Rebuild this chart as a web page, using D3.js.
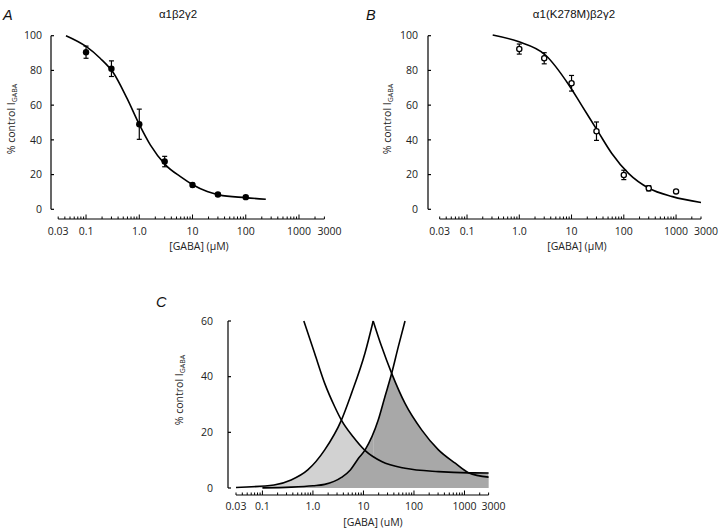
<!DOCTYPE html>
<html><head><meta charset="utf-8">
<script src="https://cdn.jsdelivr.net/npm/d3@7/dist/d3.min.js"></script>
<style>
html,body{margin:0;padding:0;background:#fff;}
svg{display:block;}
.tick-label{font-family:"Open Sans",sans-serif;font-size:10.5px;fill:#222;}
.xtick-label{font-family:"Open Sans",sans-serif;font-size:10.5px;fill:#222;}
.axis-title{font-family:"Open Sans",sans-serif;font-size:10.5px;fill:#222;}
.title{font-family:"Liberation Sans",Arial,sans-serif;font-size:11.5px;fill:#111;}
.panel{font-family:"Liberation Sans",Arial,sans-serif;font-size:14.5px;font-style:italic;fill:#111;}
</style>
</head><body>
<svg id="chart" width="720" height="529"></svg>
<script>
// ---------- DATA ----------
const xTickValues = [0.03, 0.1, 1, 10, 100, 1000, 3000];
const xTickLabels = ["0.03", "0.1", "1.0", "10", "100", "1000", "3000"];
const yTicksAB = [0, 20, 40, 60, 80, 100];
const yTicksC = [0, 20, 40, 60];

// Panel A: α1β2γ2 (filled circles)
const concA = [0.1, 0.3, 1, 3, 10, 30, 100];
const respA = [90.5, 81, 49, 27.5, 14, 8.5, 7];
const errA  = [3.5, 4.5, 8.7, 3, 1, 0.8, 0.8];
const fitA = [[0.042,100],[0.1,93.8],[0.184,87],[0.328,78.5],[0.586,64],[1.01,48.6],[1.61,37.1],[3.1,25.6],[5.94,18.8],[10.3,14],[18.9,10.2],[31.4,8.3],[100,6.7],[238,5.8]];

// Panel B: α1(K278M)β2γ2 (open circles)
const concB = [1, 3, 10, 30, 100, 300, 1000];
const respB = [92.3, 87, 72.6, 45, 19.8, 12.1, 10.3];
const errB  = [2.9, 3.2, 4.5, 5.3, 2.7, 1.5, 0];
const fitB = [[0.31,100.4],[0.955,96.6],[3.16,88.9],[8.9,71.6],[15.3,60.3],[32.2,44.7],[58.5,32.3],[123,20.7],[302,12.1],[851,7.3],[3000,3.9]];

// Panel C curves
const curveC1 = [[0.66,60],[1.08,48.4],[1.71,37.6],[2.7,29.2],[3.66,24.4],[6.24,18.4],[10.7,13.5],[22.9,9.5],[66.5,7.1],[305,5.9],[1200,5.45],[3000,5.4]];
const peakLeft = [[0.03,0.2],[0.17,1.1],[0.37,2.9],[0.79,6.5],[1.71,13.7],[3.66,24.4],[5.8,34],[10.7,48.4],[15.6,60]];
const peakRight = [[15.6,60],[22.9,50.8],[36.2,41.2],[66.5,30.4],[143,20.8],[305,13.7],[656,8.9],[1200,5.5],[3000,3.9]];
const curveC3 = [[0.1,0.05],[0.37,0.3],[1.0,0.8],[1.71,1.3],[3.67,3.8],[5.5,6.5],[7.85,10.5],[10.7,13.6],[19.6,24.4],[26.6,32.8],[36.2,41.2],[49,50.8],[66.5,60]];

// ---------- DRAW ----------
const svg = d3.select("#chart");

function panel(cfg) {
  const g = svg.append("g");
  const x = d3.scaleLog().domain([0.03, 3000]).range(cfg.xr);
  const y = d3.scaleLinear().domain(cfg.yd).range(cfg.yr);
  // y axis
  g.append("line").attr("x1", cfg.yAxisX).attr("x2", cfg.yAxisX)
    .attr("y1", y(cfg.yd[0])).attr("y2", y(cfg.yd[1])).attr("stroke", "#000").attr("stroke-width", 1.2);
  cfg.yTicks.forEach(t => {
    g.append("line").attr("x1", cfg.yAxisX).attr("x2", cfg.yAxisX + 3)
      .attr("y1", y(t)).attr("y2", y(t)).attr("stroke", "#000").attr("stroke-width", 1.2);
    g.append("text").attr("class", "tick-label").attr("x", cfg.yAxisX - cfg.yLabGap).attr("y", y(t))
      .attr("dy", "0.35em").attr("text-anchor", "end").text(t);
  });
  // x axis
  g.append("line").attr("x1", x(0.03)).attr("x2", x(3000)).attr("y1", cfg.xAxisY).attr("y2", cfg.xAxisY)
    .attr("stroke", "#000").attr("stroke-width", 1.2);
  x.ticks().forEach(t => {
    const lg = Math.log10(t);
    const major = Math.abs(lg - Math.round(lg)) < 1e-9;
    g.append("line").attr("x1", x(t)).attr("x2", x(t)).attr("y1", cfg.xAxisY)
      .attr("y2", cfg.xAxisY - (major ? 4.5 : 2.5)).attr("stroke", "#000").attr("stroke-width", 1);
  });
  xTickValues.forEach((t, i) => {
    g.append("text").attr("class", "xtick-label").attr("x", x(t) + (t === 3000 ? 5 : 0)).attr("y", cfg.xAxisY + cfg.xLabOff)
      .attr("text-anchor", "middle").text(xTickLabels[i]);
  });
  g.append("text").attr("class", "axis-title").attr("x", cfg.xTitle[0]).attr("y", cfg.xTitle[1])
    .attr("text-anchor", "middle").text(cfg.xTitleText);
  const yl = g.append("text").attr("class", "axis-title")
    .attr("transform", `translate(${cfg.yTitle[0]},${cfg.yTitle[1]}) rotate(-90)`)
    .attr("text-anchor", "middle");
  yl.append("tspan").text("% control I");
  yl.append("tspan").attr("font-size", "7px").attr("dy", "2").text("GABA");
  g.append("text").attr("class", "panel").attr("x", cfg.letter[0]).attr("y", cfg.letter[1]).text(cfg.letterText);
  if (cfg.title) {
    g.append("text").attr("class", "title").attr("x", cfg.title[0]).attr("y", cfg.title[1])
      .attr("text-anchor", "middle").text(cfg.titleText);
  }
  return {g, x, y};
}

const line = (x, y) => d3.line().x(d => x(d[0])).y(d => y(d[1])).curve(d3.curveMonotoneX);

function drawPoints(g, x, y, conc, resp, err, filled) {
  conc.forEach((c,i) => {
    const cx = x(c);
    if (err[i] > 0) {
      g.append("line").attr("x1",cx).attr("x2",cx).attr("y1",y(resp[i]-err[i])).attr("y2",y(resp[i]+err[i])).attr("stroke","#000").attr("stroke-width",1.2);
      [resp[i]-err[i], resp[i]+err[i]].forEach(v => g.append("line").attr("x1",cx-2.5).attr("x2",cx+2.5).attr("y1",y(v)).attr("y2",y(v)).attr("stroke","#000").attr("stroke-width",1.2));
    }
    if (filled) g.append("circle").attr("cx",cx).attr("cy",y(resp[i])).attr("r",3.2).attr("fill","#000");
    else g.append("circle").attr("cx",cx).attr("cy",y(resp[i])).attr("r",2.6).attr("fill","#fff").attr("stroke","#000").attr("stroke-width",1.3);
  });
}

// Panel A
{
  const {g, x, y} = panel({xr:[58.2,324.4], yd:[0,100], yr:[209.3,35.7], yAxisX:51, xAxisY:219, xLabOff:16, yTicks:yTicksAB, yLabGap:9,
    xTitle:[199,250], xTitleText:"[GABA] (\u03bcM)", yTitle:[15,119], letter:[3,20], letterText:"A",
    title:[178,18], titleText:"\u03b11\u03b22\u03b32"});
  g.append("path").attr("d", line(x,y)(fitA)).attr("fill","none").attr("stroke","#000").attr("stroke-width",1.6);
  drawPoints(g, x, y, concA, respA, errA, true);
}

// Panel B
{
  const {g, x, y} = panel({xr:[439.7,701], yd:[0,100], yr:[209.3,35.7], yAxisX:428, xAxisY:219, xLabOff:16, yTicks:yTicksAB, yLabGap:10,
    xTitle:[577,250], xTitleText:"[GABA] (\u03bcM)", yTitle:[391,119], letter:[366,20], letterText:"B",
    title:[574,18], titleText:"\u03b11(K278M)\u03b22\u03b32"});
  g.append("path").attr("d", line(x,y)(fitB)).attr("fill","none").attr("stroke","#000").attr("stroke-width",1.6);
  drawPoints(g, x, y, concB, respB, errB, false);
}

// Panel C
{
  const {g, x, y} = panel({xr:[236,488.6], yd:[0,60], yr:[488,321], yAxisX:228, xAxisY:495, xLabOff:15, yTicks:yTicksC, yLabGap:15,
    xTitle:[373,525.5], xTitleText:"[GABA] (uM)", yTitle:[183,390], letter:[156,307], letterText:"C"});
  const areaUnder = d3.area().x(d=>x(d[0])).y0(y(0)).y1(d=>y(d[1])).curve(d3.curveMonotoneX);
  const defs = svg.append("defs");
  // region under curve C1 (plus top-left where C1 is off-chart)
  defs.append("clipPath").attr("id","clipC1").append("path")
    .attr("d", line(x,y)(curveC1) + `L${x(3000)},${y(0)}L${x(0.03)},${y(0)}L${x(0.03)},${y(60)}Z`);
  // region under curve C3 (plus top-right where C3 is off-chart)
  defs.append("clipPath").attr("id","clipC3").append("path")
    .attr("d", line(x,y)(curveC3) + `L${x(3000)},${y(60)}L${x(3000)},${y(0)}L${x(0.03)},${y(0)}Z`);
  const light = g.append("g").attr("clip-path","url(#clipC1)");
  light.append("path").attr("d", areaUnder(peakLeft)).attr("fill","#d2d2d2");
  light.append("path").attr("d", areaUnder(peakRight)).attr("fill","#d2d2d2");
  const dark = g.append("g").attr("clip-path","url(#clipC3)");
  dark.append("path").attr("d", areaUnder(peakLeft)).attr("fill","#a8a8a8");
  dark.append("path").attr("d", areaUnder(peakRight)).attr("fill","#a8a8a8");
  dark.append("path").attr("d", areaUnder(curveC1)).attr("fill","#a8a8a8");
  [curveC1, peakLeft, peakRight, curveC3].forEach(c =>
    g.append("path").attr("d", line(x,y)(c)).attr("fill","none").attr("stroke","#000").attr("stroke-width",1.6));
}
</script>
</body></html>
